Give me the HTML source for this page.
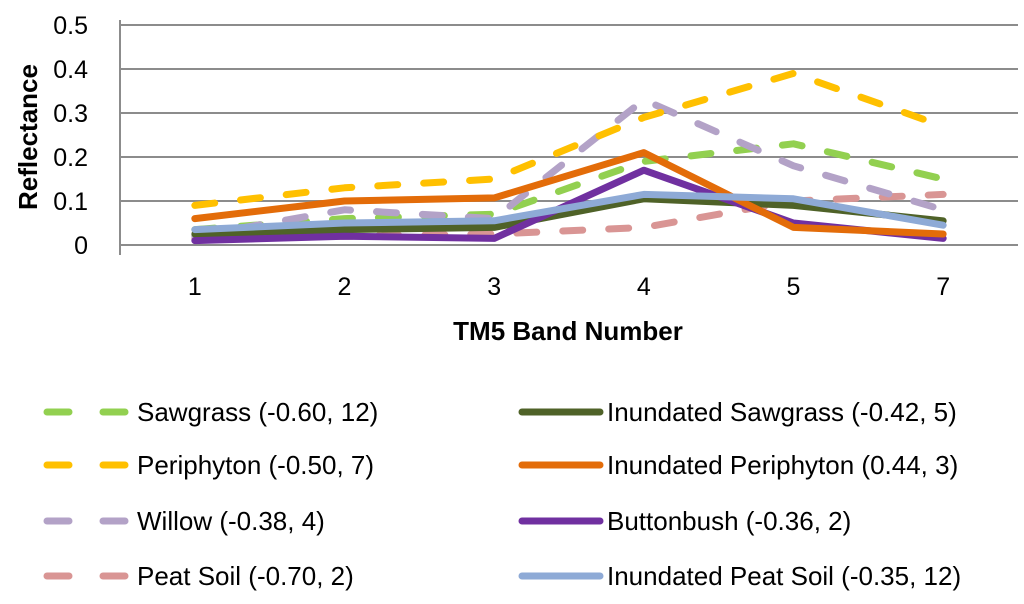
<!DOCTYPE html>
<html><head><meta charset="utf-8"><style>
body{margin:0;background:#fff;font-family:"Liberation Sans",sans-serif}
</style></head><body>
<svg width="1024" height="599" id="chart" font-family="Liberation Sans, sans-serif"></svg>
<script>
const categories=["1","2","3","4","5","7"];
const yTicks=[0,0.1,0.2,0.3,0.4,0.5];
const sawgrass=[0.035,0.06,0.07,0.19,0.23,0.15];
const periphyton=[0.09,0.13,0.15,0.29,0.39,0.27];
const willow=[0.02,0.08,0.06,0.33,0.18,0.08];
const peatSoil=[0.015,0.02,0.025,0.04,0.10,0.115];
const inSawgrass=[0.025,0.035,0.04,0.105,0.09,0.055];
const inPeriphyton=[0.06,0.10,0.107,0.21,0.04,0.025];
const buttonbush=[0.01,0.02,0.015,0.17,0.05,0.015];
const inPeat=[0.035,0.05,0.055,0.115,0.105,0.045];
const seriesNames=["Sawgrass (-0.60, 12)","Periphyton (-0.50, 7)","Willow (-0.38, 4)","Peat Soil (-0.70, 2)","Inundated Sawgrass (-0.42, 5)","Inundated Periphyton (0.44, 3)","Buttonbush (-0.36, 2)","Inundated Peat Soil (-0.35, 12)"];
const seriesData=[sawgrass,periphyton,willow,peatSoil,inSawgrass,inPeriphyton,buttonbush,inPeat];
const colors=["#92d050","#ffc000","#b3a2c7","#d99594","#4f6228","#e36c09","#7030a0","#8eaad6"];
const dashed=[true,true,true,true,false,false,false,false];
const svg=document.getElementById('chart');
const NS="http://www.w3.org/2000/svg";
const X0=120,X1=1018,Y0=245,Y1=25;
const x=i=>X0+(i+0.5)*(X1-X0)/categories.length;
const y=v=>Y0-(v/0.5)*(Y0-Y1);
function mk(t,a){const e=document.createElementNS(NS,t);for(const k in a)e.setAttribute(k,a[k]);svg.appendChild(e);return e;}
yTicks.forEach(t=>{
 const g=mk('line',{x1:X0,x2:X1,y1:y(t),y2:y(t),stroke:'#8c8c8c','stroke-width':2});
 
 
 const l=mk('text',{x:X0-32,y:y(t)+9,'text-anchor':'end','font-size':25,fill:'#000'});
 l.textContent=t===0?'0':String(t);
 
 
});
const ax=mk('line',{x1:X0,x2:X0,y1:Y1-5,y2:Y0+10,stroke:'#8c8c8c','stroke-width':2});


categories.forEach((c,i)=>{
 const l=mk('text',{x:x(i),y:295,'text-anchor':'middle','font-size':25});
 l.textContent=c;
 
 
});
const yt=mk('text',{x:0,y:0,transform:'translate(37,137) rotate(-90)','text-anchor':'middle','font-size':26,'font-weight':'bold'});
yt.textContent='Reflectance';


const xt=mk('text',{x:568,y:340,'text-anchor':'middle','font-size':26,'font-weight':'bold'});
xt.textContent='TM5 Band Number';


const order=[3,0,2,1,4,6,5,7];
order.forEach(s=>{
 const p=mk('polyline',{points:seriesData[s].map((v,i)=>x(i)+','+y(v)).join(' '),fill:'none',stroke:colors[s],'stroke-width':7,'stroke-linecap':'round','stroke-linejoin':'round'});
 if(dashed[s])p.setAttribute('stroke-dasharray','20 26');
 
 
});
const rows=[412,465,521,576];
seriesNames.forEach((n,s)=>{
 const col=s<4?0:1,r=s%4;
 const lx=col?522:47,tx=col?607:137;
 const l=mk('line',{x1:lx,x2:lx+78,y1:rows[r],y2:rows[r],stroke:colors[s],'stroke-width':7,'stroke-linecap':'round'});
 if(dashed[s])l.setAttribute('stroke-dasharray','22 34');
 
 
 const t=mk('text',{x:tx,y:rows[r]+9,'font-size':26});
 t.textContent=n;
 
 
});
</script>
</body></html>
